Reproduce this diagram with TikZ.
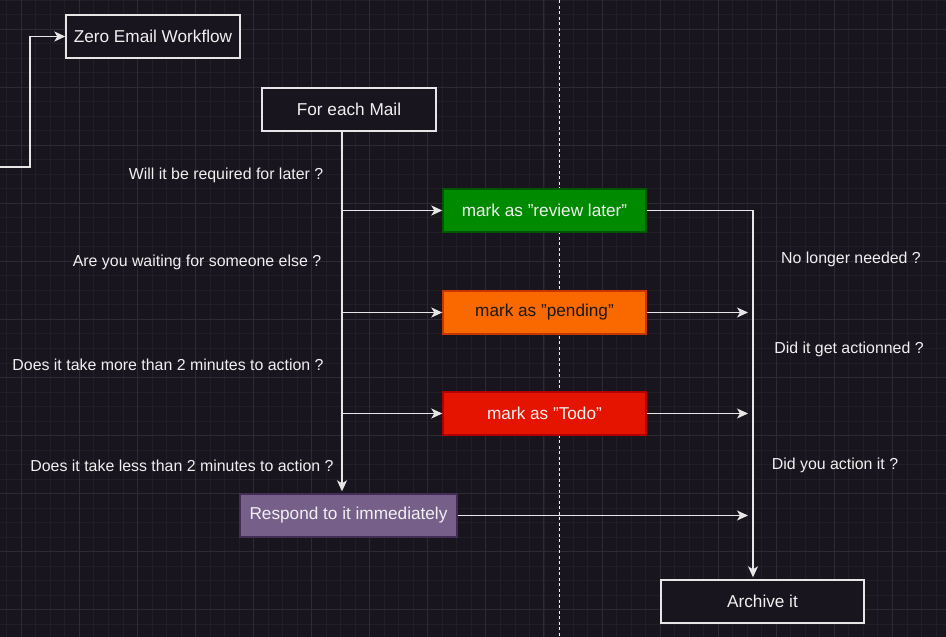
\documentclass[tikz,border=0pt]{standalone}
\usepackage{fontspec}
\setmainfont{Liberation Sans}
\usetikzlibrary{arrows.meta}
\newcommand\dq{\symbol{34}}
\definecolor{bgc}{HTML}{18151E}
\definecolor{gridminor}{HTML}{211E26}
\definecolor{gridmajor}{HTML}{2D2A33}
\definecolor{linec}{HTML}{E6E6E6}
\definecolor{txtc}{HTML}{F0F0F0}
\definecolor{greenf}{HTML}{008A00}
\definecolor{greend}{HTML}{005700}
\definecolor{orangef}{HTML}{FA6800}
\definecolor{oranged}{HTML}{C73500}
\definecolor{redf}{HTML}{E51400}
\definecolor{redd}{HTML}{B20000}
\definecolor{purplef}{HTML}{76608A}
\definecolor{purpled}{HTML}{432D57}
\tikzset{
  txt/.style={font=\fontsize{17.2}{20}\selectfont, text=txtc},
  darkbox/.style={txt, draw=linec, fill=bgc, line width=1.4pt, minimum width=174pt, minimum height=43pt, inner sep=0pt},
  colbox/.style={txt, line width=1.4pt, minimum width=203pt, minimum height=43pt, inner sep=0pt},
  lbl/.style={font=\fontsize{15.9}{19}\selectfont, text=txtc, inner sep=0pt, yshift=-1.5pt},
  arr/.style={draw=linec, line width=1.4pt, -{Stealth[length=11pt,width=10pt,inset=3pt]}},
}
\begin{document}
\begin{tikzpicture}[x=1pt,y=-1pt]
\fill[bgc] (0,0) rectangle (946,637);
\useasboundingbox (0,0) rectangle (946,637);
% grid
\foreach \i in {-2,...,65} {
  \pgfmathsetmacro\xx{21.3+\i*14.518}
  \draw[gridminor, line width=0.8pt] (\xx,0) -- (\xx,637);
}
\foreach \i in {-2,...,42} {
  \pgfmathsetmacro\yy{29+\i*14.518}
  \draw[gridminor, line width=0.8pt] (0,\yy) -- (946,\yy);
}
\foreach \i in {0,...,16} {
  \pgfmathsetmacro\xx{21.3+\i*58.07}
  \draw[gridmajor, line width=0.9pt] (\xx,0) -- (\xx,637);
}
\foreach \i in {0,...,10} {
  \pgfmathsetmacro\yy{29+\i*58.07}
  \draw[gridmajor, line width=0.9pt] (0,\yy) -- (946,\yy);
}
% dashed separator
\coordinate (dtop) at (559,0);
\coordinate (dbot) at (559,637);
\draw[color=linec!70, line width=1pt, dash pattern=on 3pt off 2.5pt] (dtop) -- (dbot);

% nodes
\node[darkbox] (title) at (153,36.5) {Zero Email Workflow};
\node[darkbox] (mail) at (349,109.5) {For each Mail};
\node[colbox, fill=greenf, draw=greend] (green) at (544.5,210.5) {mark as \dq review later\dq};
\node[colbox, fill=orangef, draw=oranged, text=black!90] (orange) at (544.5,312.5) {mark as \dq pending\dq};
\node[colbox, fill=redf, draw=redd] (red) at (544.5,413.5) {mark as \dq Todo\dq};
\node[colbox, fill=purplef, draw=purpled, minimum width=217pt] (respond) at (348.5,515.5) {Respond to it immediately};
\node[darkbox, minimum width=203pt] (archive) at (762.5,601.5) {Archive it};

% labels
\node[lbl] (q1) at (226,174) {Will it be required for later ?};
\node[lbl] (q2) at (197,261) {Are you waiting for someone else ?};
\node[lbl] (q3) at (168,363) {Does it take more than 2 minutes to action ?};
\node[lbl] (q4) at (182,464) {Does it take less than 2 minutes to action ?};
\node[lbl] (r1) at (851,258) {No longer needed ?};
\node[lbl] (r2) at (849,348) {Did it get actionned ?};
\node[lbl] (r3) at (835,464) {Did you action it ?};

% connectors
\coordinate (start) at (0,167);
\draw[arr] (start) -- ++(30,0) |- (title.west);
\coordinate (trunk) at ([xshift=-7pt]mail.south);
\draw[arr, shorten >=2pt] (trunk) -- ([xshift=-6.5pt]respond.north);
\draw[arr] (trunk |- green.west) -- (green.west);
\draw[arr] (trunk |- orange.west) -- (orange.west);
\draw[arr] (trunk |- red.west) -- (red.west);
\coordinate (arch) at ([xshift=-9.5pt]archive.north);
\draw[arr, shorten >=2pt] (green.east) -| (arch);
\draw[arr, shorten >=5pt] (orange.east) -- (arch |- orange.east);
\draw[arr, shorten >=5pt] (red.east) -- (arch |- red.east);
\draw[arr, shorten >=5pt] (respond.east) -- (arch |- respond.east);
\end{tikzpicture}
\end{document}
